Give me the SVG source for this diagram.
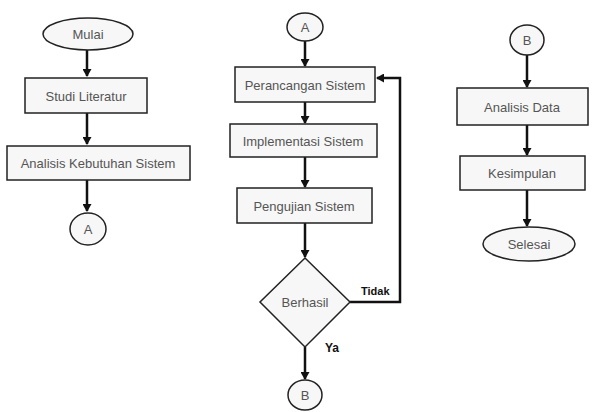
<svg xmlns="http://www.w3.org/2000/svg" width="593" height="412" viewBox="0 0 593 412">
<defs>
<marker id="ah" markerWidth="9" markerHeight="9" refX="7" refY="4.5" orient="auto" markerUnits="userSpaceOnUse">
<path d="M0,0 L8,4.5 L0,9 Z" fill="#111"/>
</marker>
</defs>
<style>
.box{fill:#f7f7f7;stroke:#222;stroke-width:1.5}
.t{font-family:"Liberation Sans",Arial,sans-serif;font-size:13px;fill:#555;text-anchor:middle;dominant-baseline:central}
.c{fill:none;stroke:#111;stroke-width:2.5}
.lb{font-family:"Liberation Sans",Arial,sans-serif;font-weight:bold;fill:#111}
</style>
<rect width="593" height="412" fill="#fff"/>
<g id="connectors">
<path class="c" d="M87,49 V76" marker-end="url(#ah)"/>
<path class="c" d="M87,113 V144" marker-end="url(#ah)"/>
<path class="c" d="M87,180 V211" marker-end="url(#ah)"/>
<path class="c" d="M305,40 V66" marker-end="url(#ah)"/>
<path class="c" d="M305,102 V123" marker-end="url(#ah)"/>
<path class="c" d="M305,157 V187" marker-end="url(#ah)"/>
<path class="c" d="M305,223 V257" marker-end="url(#ah)"/>
<path class="c" d="M350,302 H400 V78 H377" marker-end="url(#ah)"/>
<path class="c" d="M305,347 V379" marker-end="url(#ah)"/>
<path class="c" d="M527,55 V87" marker-end="url(#ah)"/>
<path class="c" d="M527,125 V155" marker-end="url(#ah)"/>
<path class="c" d="M527,190 V226" marker-end="url(#ah)"/>
<text class="lb" x="361" y="295" font-size="11">Tidak</text>
<text class="lb" x="325" y="352" font-size="12">Ya</text>
</g>
<g id="mulai"><ellipse class="box" cx="88" cy="34" rx="45" ry="16"/><text class="t" x="88" y="34">Mulai</text></g>
<g id="studi"><rect class="box" x="25" y="78" width="122" height="35"/><text class="t" x="86" y="96">Studi Literatur</text></g>
<g id="analisis-kebutuhan"><rect class="box" x="7" y="146" width="183" height="34"/><text class="t" x="98" y="163">Analisis Kebutuhan Sistem</text></g>
<g id="conn-a1"><ellipse class="box" cx="88" cy="229" rx="18" ry="16"/><text class="t" x="88" y="229">A</text></g>
<g id="conn-a2"><ellipse class="box" cx="305" cy="27" rx="18" ry="14"/><text class="t" x="305" y="27">A</text></g>
<g id="perancangan"><rect class="box" x="235" y="67" width="140" height="35"/><text class="t" x="305" y="85">Perancangan Sistem</text></g>
<g id="implementasi"><rect class="box" x="230" y="124" width="147" height="33"/><text class="t" x="303" y="141">Implementasi Sistem</text></g>
<g id="pengujian"><rect class="box" x="237" y="188" width="135" height="35"/><text class="t" x="304" y="206">Pengujian Sistem</text></g>
<g id="berhasil"><polygon class="box" points="305,258 350,302 305,347 260,302"/><text class="t" x="305" y="302">Berhasil</text></g>
<g id="conn-b1"><ellipse class="box" cx="305" cy="395" rx="17" ry="15"/><text class="t" x="305" y="395">B</text></g>
<g id="conn-b2"><ellipse class="box" cx="527" cy="40" rx="17" ry="15"/><text class="t" x="527" y="40">B</text></g>
<g id="analisis-data"><rect class="box" x="457" y="88" width="131" height="37"/><text class="t" x="522" y="107">Analisis Data</text></g>
<g id="kesimpulan"><rect class="box" x="460" y="156" width="125" height="34"/><text class="t" x="522" y="173">Kesimpulan</text></g>
<g id="selesai"><ellipse class="box" cx="529" cy="244" rx="46" ry="17"/><text class="t" x="529" y="244">Selesai</text></g>
</svg>
